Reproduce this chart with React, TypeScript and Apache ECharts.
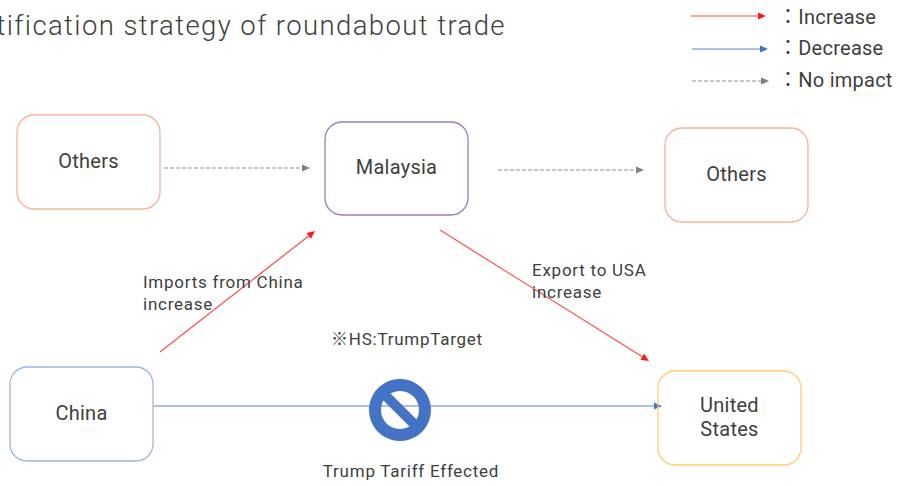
import React, { useEffect, useRef } from "react";
import * as echarts from "echarts";

const FONT = "Roboto, 'Noto Sans CJK JP', sans-serif";

// x, y, width, height, colour, label
const boxes: [number, number, number, number, string, string][] = [
  [17, 115, 143, 94, "#F4B596", "Others"],
  [325, 122, 143, 93, "#9B80BE", "Malaysia"],
  [665, 128, 143, 94, "#F4B596", "Others"],
  [10, 367, 143, 94, "#9DB7DF", "China"],
  [658, 371, 143, 94, "#FFCF70", "United\nStates"],
];
// x1, y1, x2, y2, kind
const edges: [number, number, number, number, string][] = [
  [164, 168, 310, 168, "none"],
  [498, 170, 644, 170, "none"],
  [160, 352, 315, 231, "up"],
  [440, 230, 649, 361, "up"],
  [153, 406, 662, 406, "down"],
  [691, 16, 766, 16, "up"],
  [692, 49, 768, 49, "down"],
  [692, 81, 769, 81, "none"],
];
// x, y, text, size, align
const notes: [number, number, string, number, string][] = [
  [506, 25, "Quantification strategy of roundabout trade", 27.5, "right"],
  [143, 282, "Imports from China", 17, "left"],
  [143, 304, "increase", 17, "left"],
  [532, 270, "Export to USA", 17, "left"],
  [532, 292, "increase", 17, "left"],
  [407, 339, "※HS:TrumpTarget", 17, "center"],
  [411, 471, "Trump Tariff Effected", 17, "center"],
  [778, 17, "：Increase", 20, "left"],
  [778, 48, "：Decrease", 20, "left"],
  [778, 80, "：No impact", 20, "left"],
];
const ban: [number, number][] = [[400, 410]];

const edgeStyle: Record<string, { stroke: string; fill: string; dash?: number[] }> = {
  up: { stroke: "#FF4B4B", fill: "#FF1A1A" },
  down: { stroke: "#5B84CC", fill: "#4472C4" },
  none: { stroke: "#8F8F8F", fill: "#808080", dash: [4, 2] },
};

export default function App() {
  const ref = useRef<HTMLDivElement>(null);
  useEffect(() => {
    document.body.style.margin = "0";
    const chart = echarts.init(ref.current!, undefined, { renderer: "svg" });
    chart.setOption({
      animation: false,
      backgroundColor: "#fff",
      grid: { left: 0, right: 0, top: 0, bottom: 0 },
      xAxis: { type: "value", min: 0, max: 903, show: false },
      yAxis: { type: "value", min: 0, max: 486, inverse: true, show: false },
      series: [
        {
          type: "custom",
          clip: false,
          coordinateSystem: "cartesian2d",
          data: edges.map((e) => [e[0], e[1], e[2], e[3]]),
          silent: true,
          z: 1,
          renderItem: (p: any, api: any) => {
            const e = edges[p.dataIndex];
            const [x1, y1] = api.coord([e[0], e[1]]);
            const [x2, y2] = api.coord([e[2], e[3]]);
            const s = edgeStyle[e[4]];
            const a = Math.atan2(y2 - y1, x2 - x1);
            const L = 8;
            const W = 3.6;
            const bx = x2 - L * Math.cos(a);
            const by = y2 - L * Math.sin(a);
            const nx = -Math.sin(a) * W;
            const ny = Math.cos(a) * W;
            return {
              type: "group",
              children: [
                {
                  type: "line",
                  shape: { x1, y1, x2: bx, y2: by },
                  style: { stroke: s.stroke, lineWidth: 1.2, lineDash: s.dash },
                },
                {
                  type: "polygon",
                  shape: { points: [[x2, y2], [bx + nx, by + ny], [bx - nx, by - ny]] },
                  style: { fill: s.fill },
                },
              ],
            };
          },
        },
        {
          type: "custom",
          clip: false,
          coordinateSystem: "cartesian2d",
          data: boxes.map((b) => [b[0], b[1], b[2], b[3]]),
          silent: true,
          z: 2,
          renderItem: (p: any, api: any) => {
            const b = boxes[p.dataIndex];
            const [x, y] = api.coord([b[0], b[1]]);
            return {
              type: "group",
              children: [
                {
                  type: "rect",
                  shape: { x, y, width: b[2], height: b[3], r: 17 },
                  style: { fill: "transparent", stroke: b[4], lineWidth: 1.3 },
                },
                {
                  type: "text",
                  style: {
                    x: x + b[2] / 2,
                    y: y + b[3] / 2 - 1.5,
                    text: b[5],
                    align: "center",
                    verticalAlign: "middle",
                    fill: "#404040",
                    font: `20px ${FONT}`,
                    lineHeight: 24,
                  },
                },
              ],
            };
          },
        },
        {
          type: "custom",
          clip: false,
          coordinateSystem: "cartesian2d",
          data: ban,
          silent: true,
          z: 3,
          renderItem: (p: any, api: any) => {
            const [cx, cy] = api.coord(ban[p.dataIndex]);
            const d = 20;
            return {
              type: "group",
              children: [
                {
                  type: "ring",
                  shape: { cx, cy, r: 31, r0: 19 },
                  style: { fill: "#4472C4" },
                },
                {
                  type: "line",
                  shape: { x1: cx - d, y1: cy - d, x2: cx + d, y2: cy + d },
                  style: { stroke: "#4472C4", lineWidth: 10 },
                },
              ],
            };
          },
        },
        {
          type: "custom",
          clip: false,
          coordinateSystem: "cartesian2d",
          data: notes.map((n) => [n[0], n[1]]),
          silent: true,
          z: 4,
          renderItem: (p: any, api: any) => {
            const n = notes[p.dataIndex];
            const [x, y] = api.coord([n[0], n[1]]);
            return {
              type: "text",
              style: {
                x,
                y,
                text: n[2],
                align: n[4],
                verticalAlign: "middle",
                fill: "#404040",
                font: `${n[3] > 25 ? "300 " : ""}${n[3]}px ${FONT}`,
              },
            };
          },
        },
      ],
    });
    // The reference's type is more widely set than Roboto's default spacing.
    ref.current!.querySelectorAll("text").forEach((t) => {
      const size = parseFloat((t as SVGTextElement).style.fontSize || getComputedStyle(t).fontSize);
      (t as SVGTextElement).style.letterSpacing = size > 25 ? "1.4px" : size > 18 ? "0.25px" : "0.75px";
    });
    return () => chart.dispose();
  }, []);
  return <div ref={ref} style={{ width: 903, height: 486 }} />;
}
